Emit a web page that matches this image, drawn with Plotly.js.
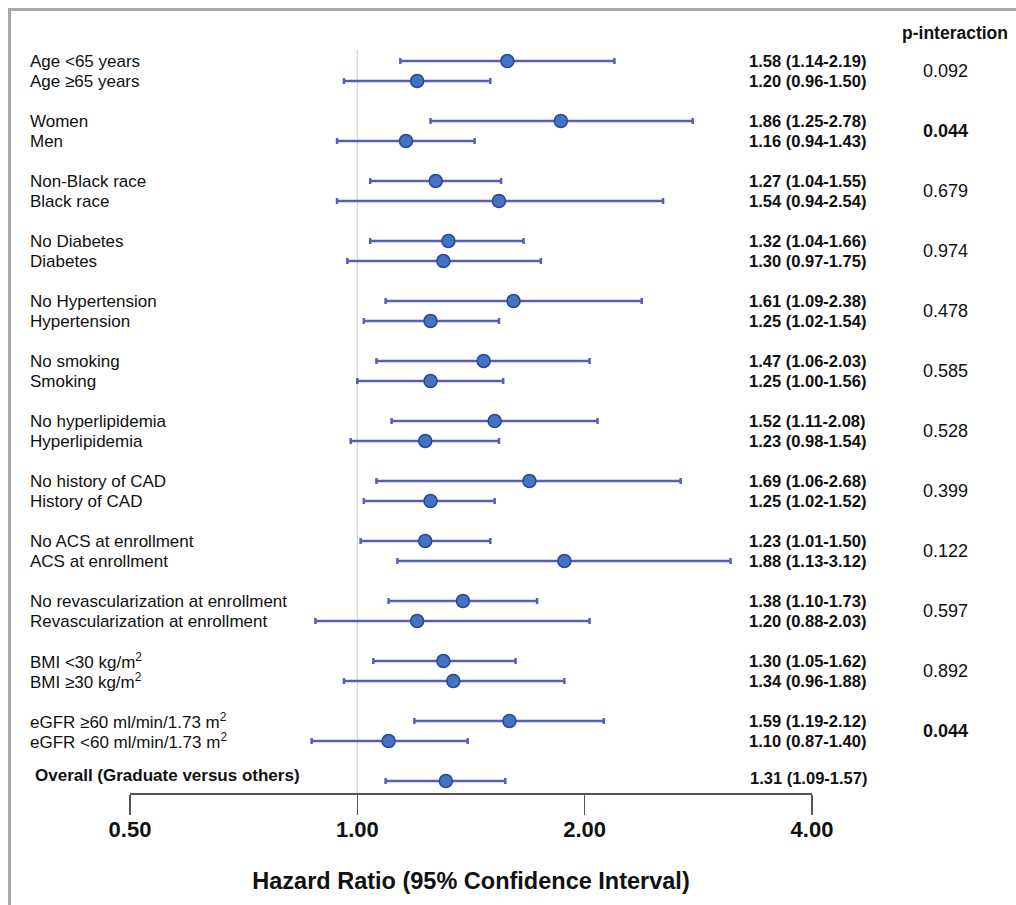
<!DOCTYPE html>
<html>
<head>
<meta charset="utf-8">
<script src="https://cdn.plot.ly/plotly-3.0.1.min.js"></script>
<style>
  html, body { margin: 0; padding: 0; background: #ffffff; }
  #chart { width: 1016px; height: 905px; }
</style>
</head>
<body>
<div id="chart"></div>
<script>
// ---- Data ----
const subgroups = [
  "Age <65 years", "Age ≥65 years",
  "Women", "Men",
  "Non-Black race", "Black race",
  "No Diabetes", "Diabetes",
  "No Hypertension", "Hypertension",
  "No smoking", "Smoking",
  "No hyperlipidemia", "Hyperlipidemia",
  "No history of CAD", "History of CAD",
  "No ACS at enrollment", "ACS at enrollment",
  "No revascularization at enrollment", "Revascularization at enrollment",
  "BMI <30 kg/m<sup>2</sup>", "BMI ≥30 kg/m<sup>2</sup>",
  "eGFR ≥60 ml/min/1.73 m<sup>2</sup>", "eGFR <60 ml/min/1.73 m<sup>2</sup>"
];
const hazardRatio = [1.58, 1.20, 1.86, 1.16, 1.27, 1.54, 1.32, 1.30, 1.61, 1.25, 1.47, 1.25,
                     1.52, 1.23, 1.69, 1.25, 1.23, 1.88, 1.38, 1.20, 1.30, 1.34, 1.59, 1.10];
const ciLower     = [1.14, 0.96, 1.25, 0.94, 1.04, 0.94, 1.04, 0.97, 1.09, 1.02, 1.06, 1.00,
                     1.11, 0.98, 1.06, 1.02, 1.01, 1.13, 1.10, 0.88, 1.05, 0.96, 1.19, 0.87];
const ciUpper     = [2.19, 1.50, 2.78, 1.43, 1.55, 2.54, 1.66, 1.75, 2.38, 1.54, 2.03, 1.56,
                     2.08, 1.54, 2.68, 1.52, 1.50, 3.12, 1.73, 2.03, 1.62, 1.88, 2.12, 1.40];
const pInteraction = ["0.092", "0.044", "0.679", "0.974", "0.478", "0.585",
                      "0.528", "0.399", "0.122", "0.597", "0.892", "0.044"];
const overallLabel = "Overall (Graduate versus others)";
const overallHR = 1.31, overallLower = 1.09, overallUpper = 1.57;
const tickValues = [0.5, 1, 2, 4];
const tickLabels = ["0.50", "1.00", "2.00", "4.00"];
const xAxisTitle = "Hazard Ratio (95% Confidence Interval)";
const pHeader = "p-interaction";

// ---- Row layout (row index units) ----
const rowY = subgroups.map((_, i) => Math.floor(i / 2) * 3 + (i % 2));
const overallY = Math.floor(subgroups.length / 2) * 3;

const fmt = v => v.toFixed(2);
const ciText = (h, l, u) => `${fmt(h)} (${fmt(l)}-${fmt(u)})`;

// plot area pixel geometry
const ML = 130, MR = 204, MT = 50, MB = 112, W = 1016, H = 905;
const PW = W - ML - MR, PH = H - MT - MB;
const px2paperX = p => (p - ML) / PW;
const px2paperY = p => 1 - (p - MT) / PH;

const barColor = "rgba(58,66,168,0.85)";
const allHR = hazardRatio.concat([overallHR]);
const allLo = ciLower.concat([overallLower]);
const allHi = ciUpper.concat([overallUpper]);
const allY = rowY.concat([overallY]);

const trace = {
  type: "scatter",
  mode: "markers",
  x: allHR,
  y: allY,
  error_x: {
    type: "data",
    symmetric: false,
    array: allHR.map((h, i) => allHi[i] - h),
    arrayminus: allHR.map((h, i) => h - allLo[i]),
    color: barColor,
    thickness: 2.5,
    width: 3
  },
  marker: {
    size: 13,
    color: "#4472c4",
    line: { color: "#2a4a8c", width: 1.5 }
  },
  hoverinfo: "skip",
  cliponaxis: false
};

const font = "Liberation Sans, Arial, Helvetica, sans-serif";

const annotations = [];
// subgroup labels
subgroups.forEach((s, i) => {
  annotations.push({
    xref: "paper", yref: "y", x: px2paperX(28), y: rowY[i],
    xanchor: "left", yanchor: "middle", showarrow: false,
    text: s, font: { family: font, size: 17, color: "#111" }
  });
  annotations.push({
    xref: "paper", yref: "y", x: px2paperX(747), y: rowY[i],
    xanchor: "left", yanchor: "middle", showarrow: false,
    text: ciText(hazardRatio[i], ciLower[i], ciUpper[i]),
    font: { family: font, size: 16.5, color: "#111", weight: "bold" }
  });
});
// p-values
pInteraction.forEach((p, g) => {
  const bold = parseFloat(p) < 0.05;
  annotations.push({
    xref: "paper", yref: "y", x: px2paperX(945), y: g * 3 + 0.5,
    xanchor: "center", yanchor: "middle", showarrow: false,
    text: p, font: { family: font, size: 18, color: "#111", weight: bold ? "bold" : "normal" }
  });
});
// header
annotations.push({
  xref: "paper", yref: "paper", x: px2paperX(955), y: px2paperY(33),
  xanchor: "center", yanchor: "middle", showarrow: false,
  text: pHeader, font: { family: font, size: 17.5, color: "#111", weight: "bold" }
});
// overall
annotations.push({
  xref: "paper", yref: "y", x: px2paperX(33), y: overallY - 0.3,
  xanchor: "left", yanchor: "middle", showarrow: false,
  text: overallLabel, font: { family: font, size: 17, color: "#111", weight: "bold" }
});
annotations.push({
  xref: "paper", yref: "y", x: px2paperX(748), y: overallY - 0.15,
  xanchor: "left", yanchor: "middle", showarrow: false,
  text: ciText(overallHR, overallLower, overallUpper),
  font: { family: font, size: 16.5, color: "#111", weight: "bold" }
});

const layout = {
  width: W, height: H,
  margin: { l: ML, r: MR, t: MT, b: MB, pad: 0 },
  paper_bgcolor: "#ffffff",
  plot_bgcolor: "#ffffff",
  showlegend: false,
  xaxis: {
    type: "log",
    range: [Math.log10(0.5), Math.log10(4)],
    tickmode: "array",
    tickvals: tickValues,
    ticktext: tickLabels,
    ticks: "outside",
    ticklen: 20,
    tickwidth: 1.5,
    tickcolor: "#555",
    ticklabelstandoff: -4,
    showline: true,
    linecolor: "#555",
    linewidth: 1.5,
    showgrid: false,
    zeroline: false,
    tickfont: { family: font, size: 22, color: "#111", weight: "bold" },
    title: {
      text: xAxisTitle,
      standoff: 31,
      font: { family: font, size: 23.5, color: "#111", weight: "bold" }
    },
    automargin: false,
    fixedrange: true
  },
  yaxis: {
    range: [36.6, -0.55],
    visible: false,
    showgrid: false,
    zeroline: false,
    fixedrange: true
  },
  shapes: [
    { type: "line", xref: "x", yref: "paper", x0: 1, x1: 1, y0: 0, y1: 1,
      line: { color: "#d9d9d9", width: 1.5 }, layer: "below" },
    { type: "line", xref: "paper", yref: "paper",
      x0: px2paperX(9.5), x1: px2paperX(9.5), y0: px2paperY(9.5), y1: px2paperY(920),
      line: { color: "#a8a8a8", width: 3 } },
    { type: "line", xref: "paper", yref: "paper",
      x0: px2paperX(8), x1: px2paperX(1030), y0: px2paperY(9.5), y1: px2paperY(9.5),
      line: { color: "#a8a8a8", width: 3 } }
  ],
  annotations: annotations
};

Plotly.newPlot("chart", [trace], layout, { displayModeBar: false, staticPlot: true });
</script>
</body>
</html>
